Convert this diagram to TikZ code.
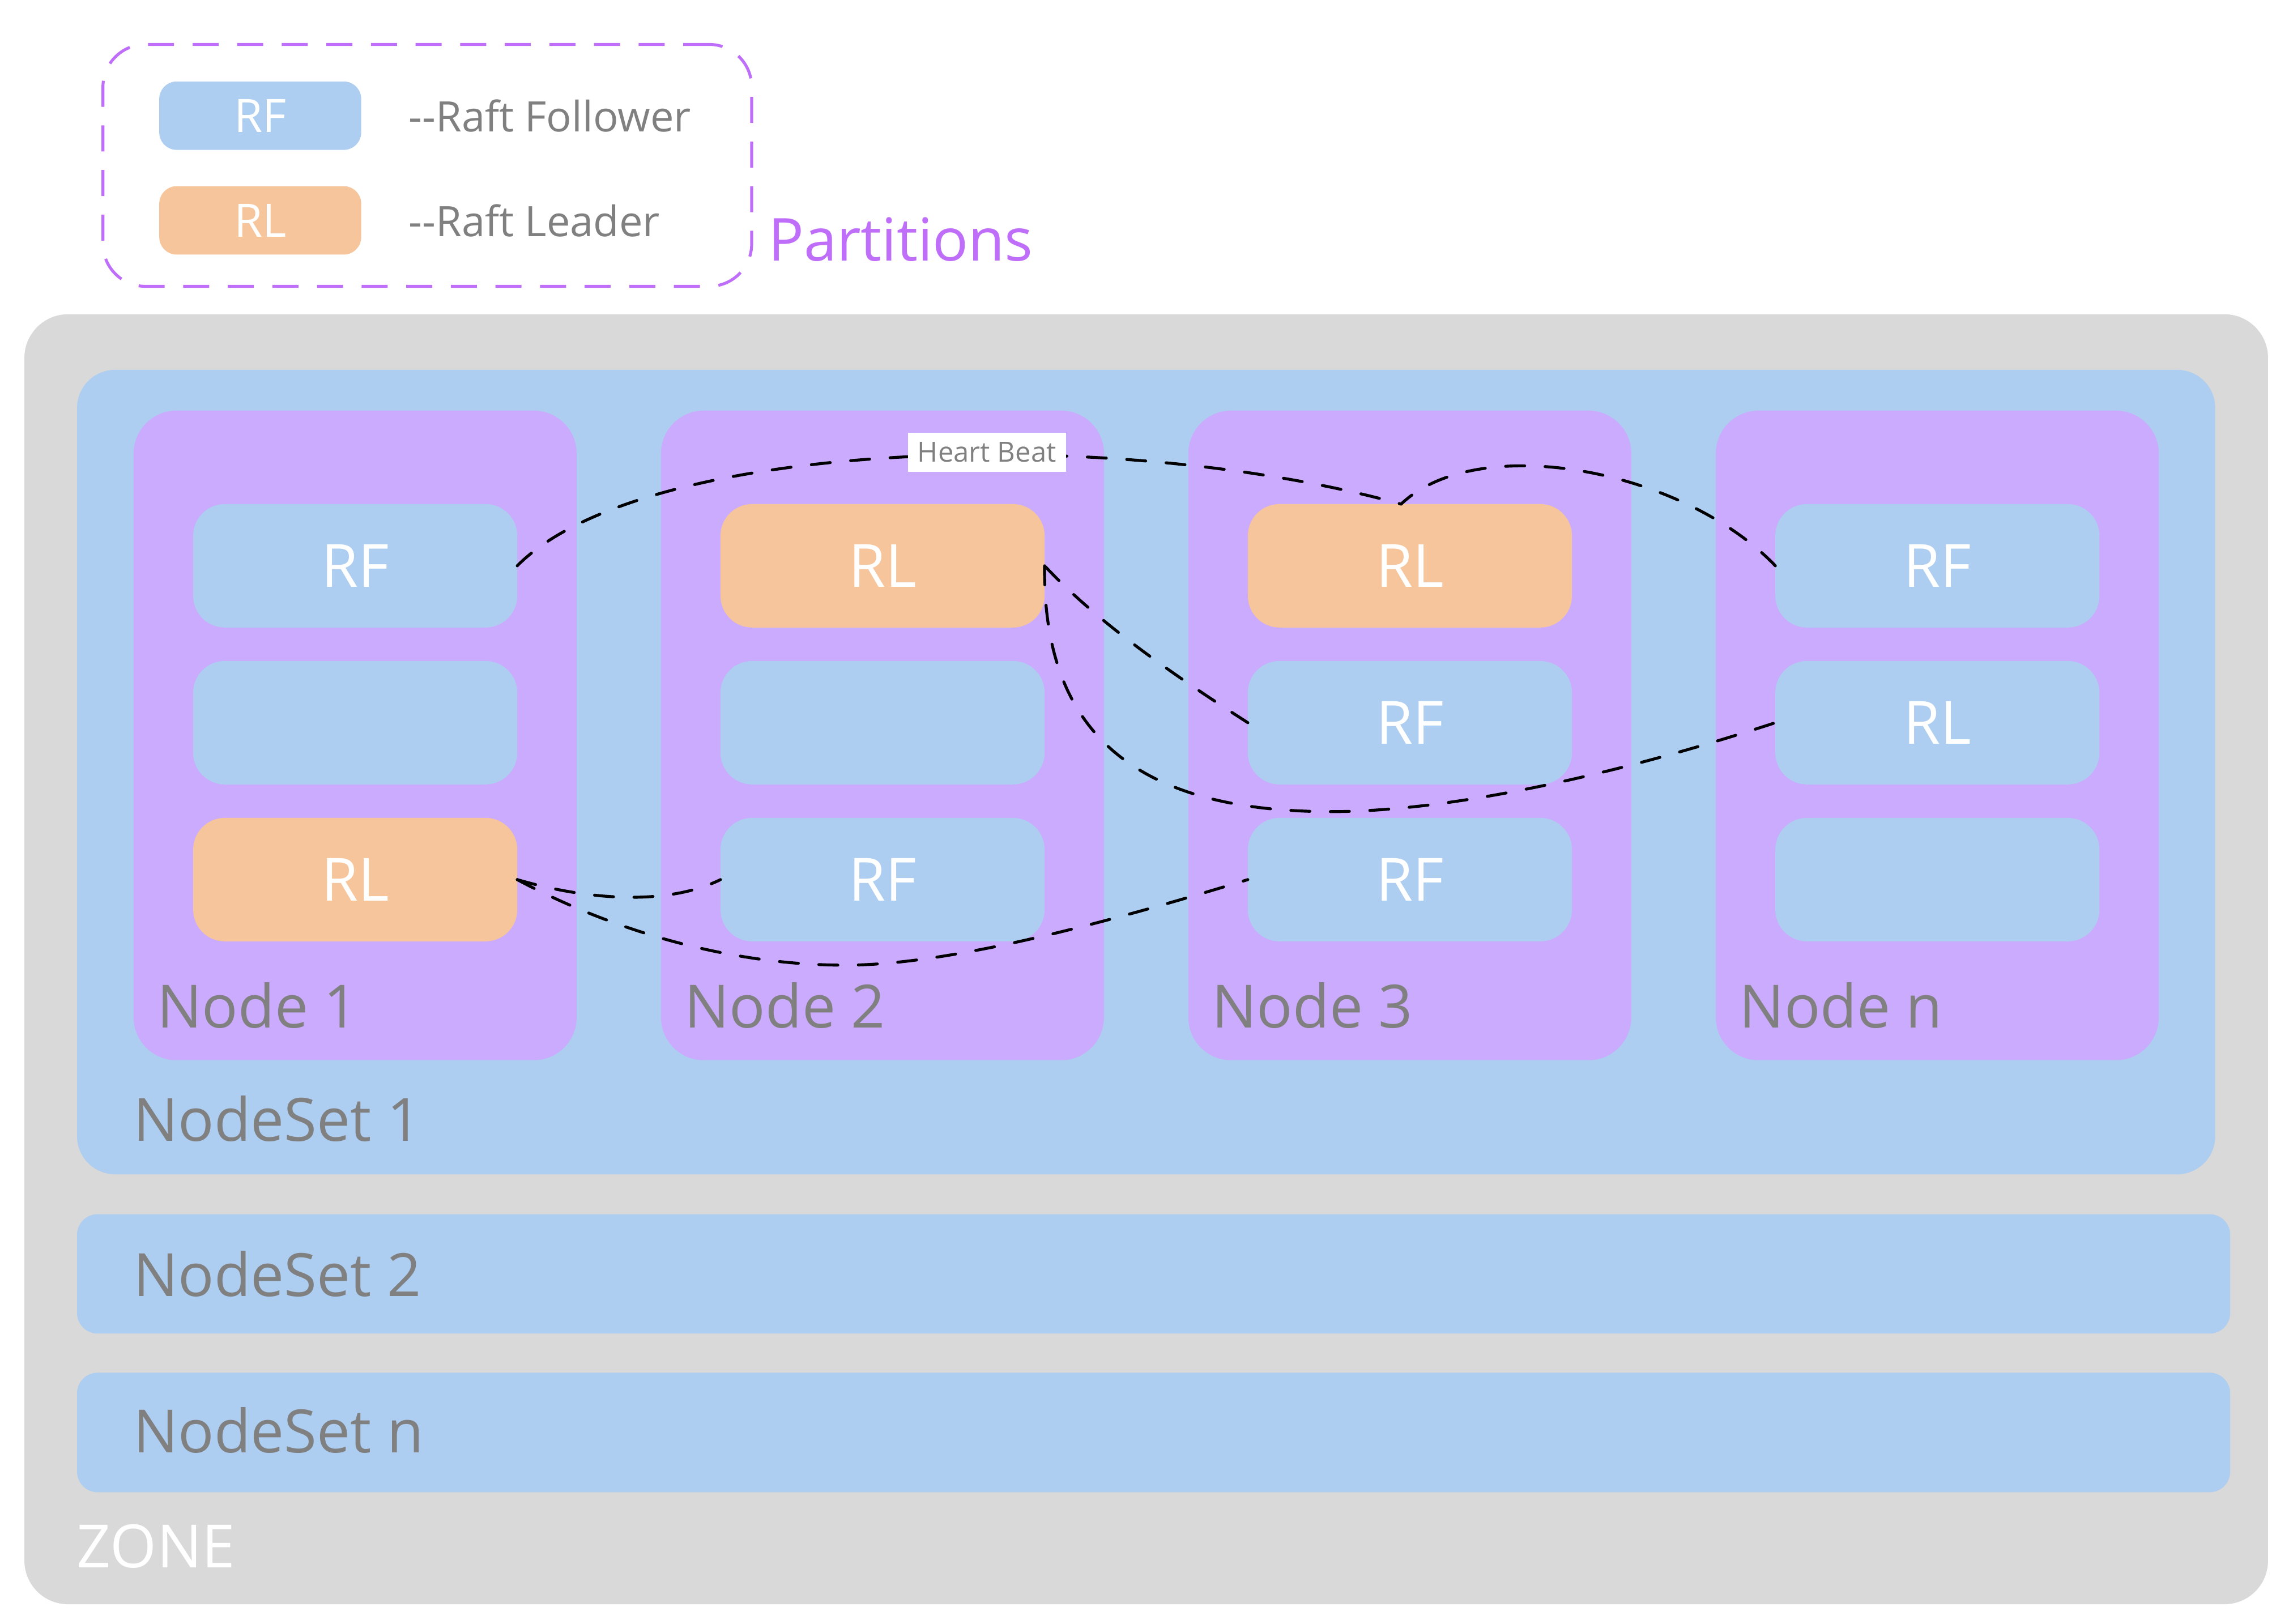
\documentclass[tikz,border=0pt]{standalone}
\usepackage{fontspec}
\setmainfont{Open Sans}
\definecolor{zonegray}{HTML}{D9D9D9}
\definecolor{setblue}{HTML}{ADCDF1}
\definecolor{nodepurple}{HTML}{CBABFD}
\definecolor{leadorange}{HTML}{F7C59C}
\definecolor{labelgray}{HTML}{808080}
\definecolor{legendpurple}{HTML}{BF6EF9}
\begin{document}
\begin{tikzpicture}[x=1pt,y=-1pt,
  container/.style={anchor=north west, inner sep=0pt, outer sep=0pt},
  zonebox/.style={container, fill=zonegray, rounded corners=29.8pt},
  setbox/.style={container, fill=setblue},
  colbox/.style={container, fill=nodepurple, rounded corners=29.3pt, minimum width=302.9pt, minimum height=444.2pt},
  part/.style={container, rounded corners=21.6pt, minimum width=221.6pt, minimum height=84.4pt, text=white, font=\fontsize{40.8}{41}\selectfont},
  fpart/.style={part, fill=setblue},
  lpart/.style={part, fill=leadorange},
  legpart/.style={container, rounded corners=12pt, minimum width=138.1pt, minimum height=46.8pt, text=white, font=\fontsize{31.5}{32}\selectfont},
  biglabel/.style={anchor=base west, inner sep=0pt, text=labelgray, font=\fontsize{40.8}{41}\selectfont},
  legtext/.style={anchor=base west, inner sep=0pt, text=labelgray, font=\fontsize{28.7}{29}\selectfont},
  conn/.style={draw=black, line width=2pt, dash pattern=on 13pt off 14pt, line cap=round},
  hbeat/.style={fill=white, text=labelgray, inner sep=0pt, minimum width=108.2pt, minimum height=26.5pt, font=\fontsize{19}{19}\selectfont}
]
\useasboundingbox (0,0) rectangle (1568,1110.5);

% legend
\node[container, draw=legendpurple, line width=2pt, dash pattern=on 17.8pt off 12.7pt, rounded corners=29pt, minimum width=443.6pt, minimum height=165.4pt] (legend) at (70.4,30.4) {};
\node[legpart, fill=setblue] (lrf) at (108.9,55.7) {RF};
\node[legpart, fill=leadorange] (lrl) at (108.9,127.3) {RL};
\node[legtext] (lrft) at (279.3,90) {-\kern0pt-Raft Follower};
\node[legtext] (lrlt) at (279.3,161.6) {-\kern0pt-Raft Leader};
\node[anchor=base west, inner sep=0pt, text=legendpurple, font=\fontsize{40.5}{41}\selectfont] (parts) at (525.1,178.5) {Partitions};

% containers
\node[zonebox, minimum width=1534.2pt, minimum height=882.1pt] (zone) at (16.7,214.9) {};
\node[setbox, rounded corners=26pt, minimum width=1462.1pt, minimum height=550.1pt] (set1) at (52.7,252.9) {};
\node[setbox, rounded corners=14pt, minimum width=1472.3pt, minimum height=81.6pt] (set2) at (52.7,830.3) {};
\node[setbox, rounded corners=14pt, minimum width=1472.3pt, minimum height=81.7pt] (setn) at (52.7,938.7) {};

% node columns
\node[colbox] (c1) at (91.4,280.8) {};
\node[colbox] (c2) at (452.0,280.8) {};
\node[colbox] (c3) at (812.6,280.8) {};
\node[colbox] (c4) at (1173.3,280.8) {};

% partitions
\node[fpart] (n1a) at (132.1,344.7) {RF};
\node[fpart] (n1b) at (132.1,452.0) {};
\node[lpart] (n1c) at (132.1,559.3) {RL};

\node[lpart] (n2a) at (492.7,344.7) {RL};
\node[fpart] (n2b) at (492.7,452.0) {};
\node[fpart] (n2c) at (492.7,559.3) {RF};

\node[lpart] (n3a) at (853.3,344.7) {RL};
\node[fpart] (n3b) at (853.3,452.0) {RF};
\node[fpart] (n3c) at (853.3,559.3) {RF};

\node[fpart] (n4a) at (1214.0,344.7) {RF};
\node[fpart] (n4b) at (1214.0,452.0) {RL};
\node[fpart] (n4c) at (1214.0,559.3) {};

% labels
\node[biglabel] (l1) at (107.3,703) {Node 1};
\node[biglabel] (l2) at (467.9,703) {Node 2};
\node[biglabel] (l3) at (828.5,703) {Node 3};
\node[biglabel] (l4) at (1189.2,703) {Node n};
\node[biglabel] (ls1) at (90.9,780.3) {NodeSet 1};
\node[biglabel] (ls2) at (90.9,886.5) {NodeSet 2};
\node[biglabel] (lsn) at (90.9,993.3) {NodeSet n};
\node[biglabel, text=white] (lz) at (52.4,1072) {ZONE};

% connectors
\coordinate (dlow) at (910,555);
\coordinate (flow) at (578,660);
\draw[conn] (n1a.east) .. controls (440,300) and (760,290) .. ([xshift=-6pt]n3a.north);
\draw[conn] (n4a.west) .. controls (1150,320) and (1010,295) .. ([xshift=-6pt]n3a.north);
\draw[conn] (n3b.west) .. controls (800,460) and (750,425) .. (n2a.east);
\draw[conn] (n2a.east) .. controls (713,500) and (775,555) .. (dlow) .. controls (1000,555) and (1120,525) .. (n4b.west);
\draw[conn] (n1c.east) .. controls (400,615) and (455,620) .. (n2c.west);
\draw[conn] (n1c.east) .. controls (420,637) and (500,660) .. (flow) .. controls (650,660) and (760,630) .. (n3c.west);

\node[hbeat] (hb) at (674.9,309.3) {Heart Beat};
\end{tikzpicture}
\end{document}
